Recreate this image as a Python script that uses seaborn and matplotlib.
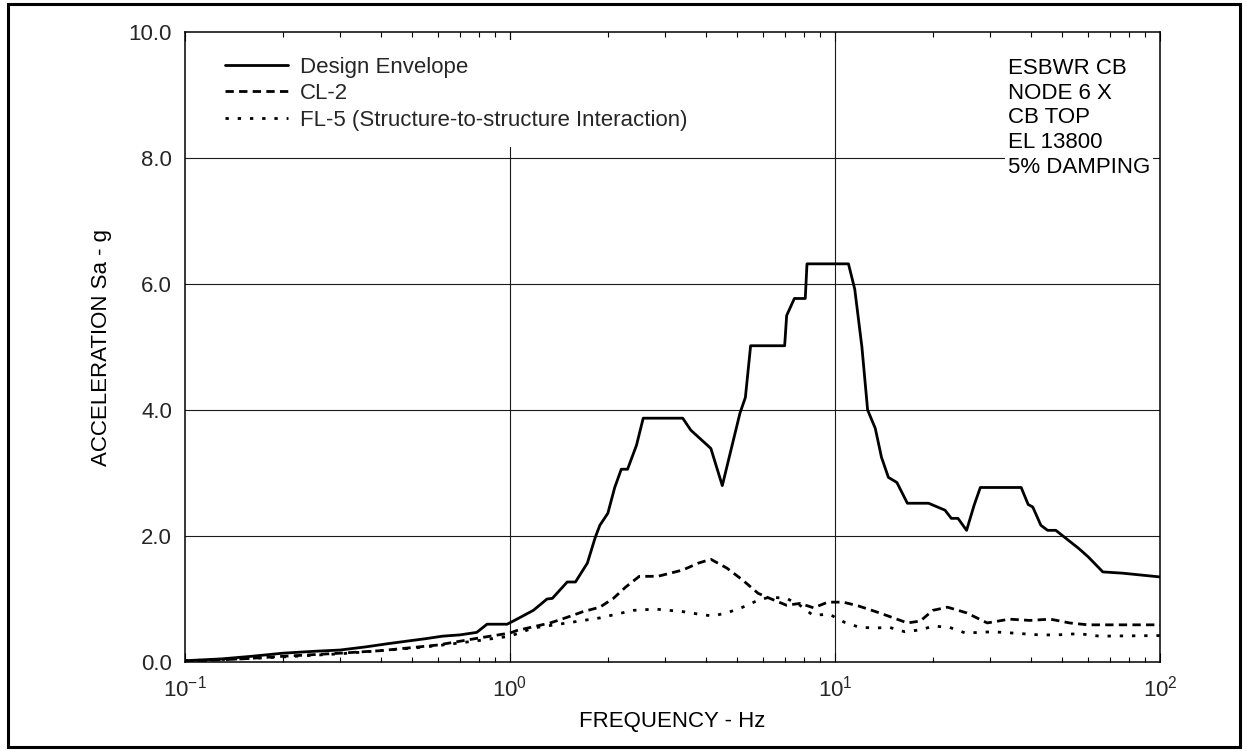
import matplotlib
matplotlib.use("Agg")
import matplotlib.pyplot as plt
from matplotlib.patches import Rectangle
from matplotlib.ticker import LogLocator, NullFormatter, FixedLocator
import seaborn as sns

# Response spectrum data (frequency in Hz, spectral acceleration in g)
env_freq = [0.10, 0.13, 0.16, 0.20, 0.25, 0.30, 0.36, 0.42, 0.48, 0.55,
            0.62, 0.70, 0.79, 0.85, 0.98, 1.05, 1.18, 1.30, 1.35, 1.50,
            1.59, 1.73, 1.83, 1.89, 2.00, 2.10, 2.20, 2.30, 2.45, 2.57,
            3.40, 3.60, 4.15, 4.50, 5.10, 5.30, 5.50, 7.00, 7.10, 7.50,
            8.10, 8.20, 11.0, 11.5, 12.1, 12.6, 13.3, 13.9, 14.6, 15.5,
            16.7, 19.4, 21.8, 22.8, 23.9, 25.4, 26.8, 28.0, 37.4, 39.3,
            40.6, 43.0, 45.1, 47.8, 56.3, 60.1, 66.7, 76.7, 100.0]
env_acc = [0.02, 0.05, 0.09, 0.14, 0.17, 0.19, 0.24, 0.29, 0.33, 0.37,
           0.41, 0.43, 0.47, 0.60, 0.60, 0.68, 0.82, 1.00, 1.01, 1.27,
           1.27, 1.57, 1.98, 2.17, 2.36, 2.77, 3.06, 3.06, 3.44, 3.87,
           3.87, 3.68, 3.39, 2.80, 3.95, 4.20, 5.02, 5.02, 5.50, 5.77,
           5.77, 6.32, 6.32, 5.92, 5.00, 4.00, 3.71, 3.25, 2.93, 2.85,
           2.52, 2.52, 2.41, 2.28, 2.28, 2.09, 2.49, 2.77, 2.77, 2.50,
           2.46, 2.17, 2.09, 2.09, 1.80, 1.67, 1.43, 1.41, 1.35]

cl2_freq = [0.10, 0.15, 0.20, 0.30, 0.40, 0.48, 0.60, 0.80, 1.00, 1.05,
            1.33, 1.50, 1.68, 1.89, 2.08, 2.27, 2.50, 2.85, 3.40, 3.80,
            4.15, 4.65, 5.20, 5.80, 6.30, 7.10, 7.80, 8.60, 9.50, 10.6,
            11.8, 13.7, 16.7, 18.3, 20.0, 22.2, 25.4, 29.4, 34.4, 39.8,
            46.0, 52.7, 60.0, 100.0]
cl2_acc = [0.01, 0.05, 0.09, 0.14, 0.18, 0.22, 0.27, 0.38, 0.46, 0.50,
           0.62, 0.71, 0.80, 0.87, 1.01, 1.19, 1.36, 1.36, 1.46, 1.57,
           1.63, 1.49, 1.30, 1.09, 1.01, 0.90, 0.93, 0.86, 0.95, 0.95,
           0.89, 0.78, 0.62, 0.65, 0.82, 0.87, 0.78, 0.62, 0.68, 0.66,
           0.68, 0.62, 0.59, 0.59]

fl5_freq = [0.10, 0.15, 0.20, 0.30, 0.40, 0.50, 0.60, 0.80, 1.00, 1.18,
            1.50, 1.89, 2.40, 2.80, 3.40, 3.80, 4.20, 4.65, 5.20, 5.80,
            6.30, 7.10, 7.80, 8.56, 9.60, 10.7, 11.9, 13.4, 14.7, 16.4,
            18.3, 20.1, 22.5, 25.2, 30.5, 35.2, 42.6, 48.2, 56.3, 65.0,
            100.0]
fl5_acc = [0.02, 0.05, 0.08, 0.13, 0.18, 0.22, 0.26, 0.34, 0.41, 0.54,
           0.62, 0.70, 0.82, 0.84, 0.80, 0.76, 0.73, 0.78, 0.87, 0.98,
           1.03, 1.01, 0.90, 0.74, 0.76, 0.63, 0.55, 0.54, 0.55, 0.48,
           0.51, 0.57, 0.55, 0.46, 0.48, 0.46, 0.43, 0.43, 0.45, 0.41,
           0.42]

series_labels = ["Design Envelope", "CL-2",
                 "FL-5 (Structure-to-structure Interaction)"]
y_ticks = [0.0, 2.0, 4.0, 6.0, 8.0, 10.0]
info_lines = ["ESBWR CB", "NODE 6 X", "CB TOP", "EL 13800", "5% DAMPING"]

sns.set_theme(style="white")
plt.rcParams["font.family"] = ["Liberation Sans", "DejaVu Sans"]
plt.rcParams["mathtext.fontset"] = "custom"
plt.rcParams["mathtext.rm"] = "Liberation Sans"
plt.rcParams["mathtext.it"] = "Liberation Sans:italic"
plt.rcParams["mathtext.bf"] = "Liberation Sans:bold"
plt.rcParams["axes.unicode_minus"] = False

W, H = 1246, 751
FS = 16
fig = plt.figure(figsize=(W / 100, H / 100), dpi=100)
fig.patch.set_facecolor("white")

# axes box in pixels: left 185, right 1160, top 32, bottom 662
ax = fig.add_axes([185 / W, 1 - 662 / H, 975 / W, 630 / H])
ax.set_facecolor("white")

lw = 2.0
sns.lineplot(x=env_freq, y=env_acc, ax=ax, color="black", lw=lw,
             label=series_labels[0], estimator=None, sort=False)
sns.lineplot(x=cl2_freq, y=cl2_acc, ax=ax, color="black", lw=lw,
             linestyle=(0, (3.0, 1.9)), label=series_labels[1],
             estimator=None, sort=False)
sns.lineplot(x=fl5_freq, y=fl5_acc, ax=ax, color="black", lw=lw,
             linestyle=(0, (1.2, 3.2)), label=series_labels[2],
             estimator=None, sort=False)

ax.set_xscale("log")
ax.set_xlim(0.1, 100)
ax.set_ylim(0, 10)
ax.set_yticks(y_ticks)
ax.set_yticklabels([f"{v:.1f}" for v in y_ticks])
ax.xaxis.set_major_locator(FixedLocator([0.1, 1, 10, 100]))
ax.xaxis.set_minor_locator(LogLocator(base=10, subs=range(2, 10)))
ax.xaxis.set_minor_formatter(NullFormatter())

# grid only at decades and at the labelled accelerations
ax.grid(False)
for gx in [1, 10]:
    ax.axvline(gx, color="#1a1a1a", lw=0.8, zorder=0.5)
for gy in y_ticks[1:-1]:
    ax.axhline(gy, color="#1a1a1a", lw=0.8, zorder=0.5)

ax.tick_params(axis="x", which="both", direction="in", top=True,
               bottom=True, color="black", labelsize=FS, pad=10)
ax.tick_params(axis="x", which="major", length=6.5, width=0.8)
ax.tick_params(axis="x", which="minor", length=3.8, width=0.8)
ax.tick_params(axis="y", which="both", length=0, labelsize=FS, pad=9.4,
               left=True)
for sp in ax.spines.values():
    sp.set_color("black")
    sp.set_linewidth(1.1)
    sp.set_visible(True)

ax.set_xlabel("FREQUENCY - Hz", fontsize=FS, color="black")
ax.set_ylabel("ACCELERATION Sa - g", fontsize=FS, color="black")
ax.xaxis.set_label_coords(0.5, (662 - 711) / 630)
ax.yaxis.set_label_coords((112 - 185) / 975, 0.5)

leg = ax.legend(loc="upper left", bbox_to_anchor=(208 / W, 1 - 40 / H),
                bbox_transform=fig.transFigure, frameon=True, fancybox=False,
                edgecolor="none", facecolor="white", framealpha=1,
                borderpad=0.75, handlelength=2.84, handletextpad=0.54,
                labelspacing=0.25, borderaxespad=0, fontsize=FS)
leg.set_zorder(5)

ax.text((1008 - 185) / 975, (662 - 58) / 630, "\n".join(info_lines),
        transform=ax.transAxes, ha="left", va="top", fontsize=FS,
        linespacing=1.23, color="black", zorder=5,
        bbox=dict(facecolor="white", edgecolor="none", pad=2))

# outer frame around the whole figure
fig.patches.append(Rectangle((8 / W, 1 - 747 / H), (1240 - 8) / W,
                             (747 - 4) / H, transform=fig.transFigure,
                             fill=False, edgecolor="black", lw=2.2))

fig.savefig("out.png", dpi=100, facecolor="white")
